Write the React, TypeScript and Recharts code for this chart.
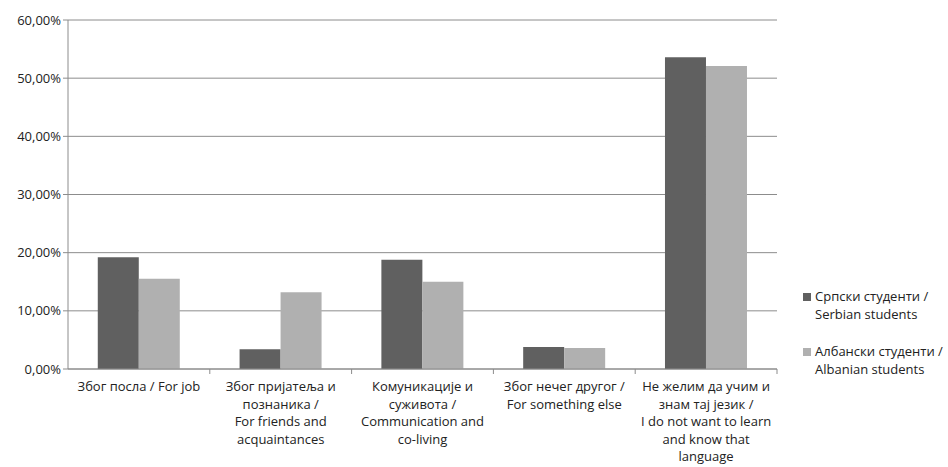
import React from "react";
import {
  BarChart,
  Bar,
  XAxis,
  YAxis,
  CartesianGrid,
} from "recharts";

const categories = [
  ["Због посла / For job"],
  ["Због пријатеља и", "познаника /", "For friends and", "acquaintances"],
  ["Комуникације и", "суживота /", "Communication and", "co-living"],
  ["Због нечег другог /", "For something else"],
  ["Не желим да учим и", "знам тај језик /", "I do not want to learn", "and know that", "language"],
];
const serbian = [19.2, 3.4, 18.8, 3.8, 53.6];
const albanian = [15.5, 13.2, 15.0, 3.6, 52.1];
const yTicks = [0, 10, 20, 30, 40, 50, 60];
const seriesNames = [
  ["Српски студенти /", "Serbian students"],
  ["Албански студенти /", "Albanian students"],
];

const DARK = "#606060";
const LIGHT = "#b0b0b0";
const GRID = "#8c8c8c";
const FONT = "'Open Sans', sans-serif";

const data = categories.map((lines, i) => ({
  key: String(i),
  serbian: serbian[i],
  albanian: albanian[i],
}));

const W = 948;
const H = 467;
const margin = { top: 20, right: 171, bottom: 68, left: 8 };
const yAxisWidth = 60;
const bandWidth = (W - margin.left - yAxisWidth - margin.right) / categories.length;

function CategoryTick(props: any) {
  const { x, y, payload } = props;
  const lines = categories[Number(payload.value)] || [];
  return (
    <g>
      <line x1={x + bandWidth / 2} x2={x + bandWidth / 2} y1={y - 8} y2={y - 3} stroke={GRID} />
      <text x={x} y={y + 14} textAnchor="middle" fontFamily={FONT} fontSize={13} fill="#222">
        {lines.map((l: string, i: number) => (
          <tspan key={i} x={x} dy={i === 0 ? 0 : 17.5}>
            {l}
          </tspan>
        ))}
      </text>
    </g>
  );
}

function LegendBox() {
  const colors = [DARK, LIGHT];
  return (
    <div
      style={{
        position: "absolute",
        left: 803,
        top: 287,
        fontFamily: FONT,
        fontSize: 13,
        color: "#222",
      }}
    >
      {seriesNames.map((lines, i) => (
        <div key={i} style={{ display: "flex", alignItems: "flex-start", marginBottom: i === 0 ? 19 : 0 }}>
          <span
            style={{
              display: "inline-block",
              width: 8,
              height: 8,
              background: colors[i],
              marginTop: 6,
              marginRight: 4,
            }}
          />
          <div style={{ lineHeight: "18px" }}>
            {lines.map((l, j) => (
              <div key={j}>{l}</div>
            ))}
          </div>
        </div>
      ))}
    </div>
  );
}

export default function App() {
  return (
    <div style={{ position: "absolute", left: 0, top: 0, width: W, height: H, background: "#fff" }}>
      <BarChart width={W} height={H} data={data} margin={margin} barCategoryGap="21%" barGap={0}>
        <CartesianGrid vertical={false} stroke={GRID} />
        <XAxis
          dataKey="key"
          tick={<CategoryTick />}
          tickLine={false}
          axisLine={{ stroke: GRID }}
          interval={0}
        />
        <YAxis
          width={yAxisWidth}
          domain={[0, 60]}
          ticks={yTicks}
          tickFormatter={(v: number) => v.toFixed(2).replace(".", ",") + "%"}
          tick={{ fontFamily: FONT, fontSize: 13, fill: "#222" }}
          tickLine={{ stroke: GRID }}
          tickSize={5}
          axisLine={{ stroke: GRID }}
        />
        <Bar dataKey="serbian" fill={DARK} isAnimationActive={false} />
        <Bar dataKey="albanian" fill={LIGHT} isAnimationActive={false} />
      </BarChart>
      <LegendBox />
    </div>
  );
}
